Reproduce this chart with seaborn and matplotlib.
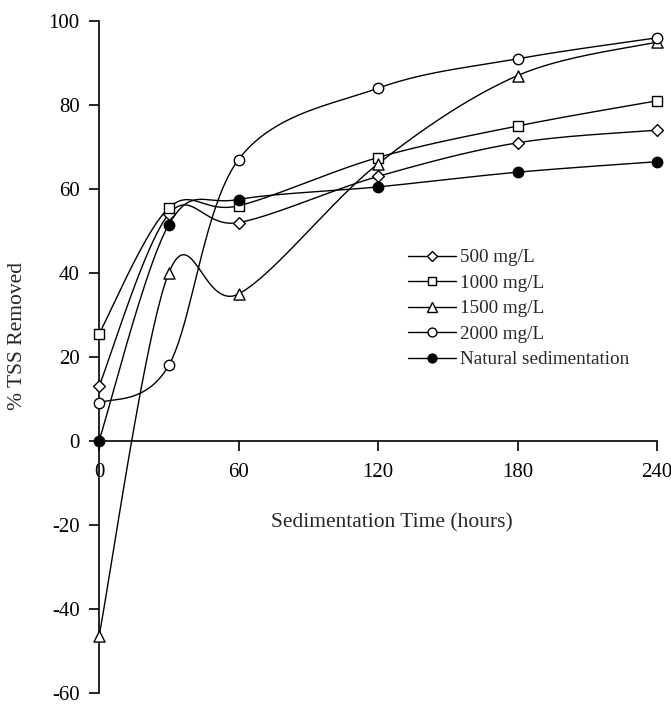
import numpy as np
import pandas as pd
import matplotlib
matplotlib.use("Agg")
import matplotlib.pyplot as plt
import seaborn as sns
from matplotlib.lines import Line2D

hours = [0, 30, 60, 120, 180, 240]
s500 = [13, 54, 52, 63, 71, 74]
s1000 = [25.5, 55.5, 56, 67.5, 75, 81]
s1500 = [-46.5, 40, 35, 66, 87, 95]
s2000 = [9, 18, 67, 84, 91, 96]
natural = [0, 51.5, 57.5, 60.5, 64, 66.5]
labels = ["500 mg/L", "1000 mg/L", "1500 mg/L", "2000 mg/L", "Natural sedimentation"]
series = [s500, s1000, s1500, s2000, natural]
markers = ["D", "s", "^", "o", "o"]
msizes = [6, 7, 8, 7.5, 7.5]
faces = ["white", "white", "white", "white", "black"]

sns.set_theme(style="white")
plt.rcParams["font.family"] = ["Liberation Serif", "DejaVu Serif"]
plt.rcParams["axes.unicode_minus"] = False


def smooth(x, y, n=40):
    P = np.column_stack([x, y]).astype(float)
    P = np.vstack([P[0], P, P[-1]])
    out = []
    t = np.linspace(0, 1, n)[:, None]
    for i in range(1, len(P) - 2):
        p0, p1, p2, p3 = P[i - 1], P[i], P[i + 1], P[i + 2]
        c1 = p1 + (p2 - p0) / 6
        c2 = p2 - (p3 - p1) / 6
        seg = ((1 - t) ** 3) * p1 + 3 * ((1 - t) ** 2) * t * c1 + 3 * (1 - t) * t ** 2 * c2 + t ** 3 * p2
        out.append(seg if i == 1 else seg[1:])
    return np.vstack(out)


fig = plt.figure(figsize=(6.71, 7.04), dpi=100)
ax = fig.add_axes([99 / 671, 1 - 693 / 704, (657 - 99) / 671, (693 - 21) / 704])

for lab, ys, m, ms, fc in zip(labels, series, markers, msizes, faces):
    curve = smooth(hours, ys)
    df = pd.DataFrame({"x": curve[:, 0], "y": curve[:, 1]})
    sns.lineplot(data=df, x="x", y="y", ax=ax, color="black", lw=1.0, sort=False,
                 estimator=None, legend=False, clip_on=False)
    pts = pd.DataFrame({"x": hours, "y": ys})
    sns.scatterplot(data=pts, x="x", y="y", ax=ax, marker=m, s=ms ** 2, facecolor=fc,
                    edgecolor="black", linewidth=1.0, legend=False, clip_on=False, zorder=5)

ax.set_xlim(0, 240)
ax.set_ylim(-60, 100)
ax.spines["left"].set_position(("data", 0))
ax.spines["bottom"].set_position(("data", 0))
ax.spines["right"].set_visible(False)
ax.spines["top"].set_visible(False)
for s in ["left", "bottom"]:
    ax.spines[s].set_color("black")
    ax.spines[s].set_linewidth(1.2)
ax.set_xticks([0, 60, 120, 180, 240])
ax.set_yticks(range(-60, 101, 20))
ax.tick_params(axis="both", direction="out", length=7, width=1.2, color="black",
               labelsize=15, labelcolor="black", bottom=True, left=True)
ax.tick_params(axis="x", pad=9)
ax.tick_params(axis="y", pad=7)
ax.set_xlabel("")
ax.set_ylabel("")
fig.text(392 / 671, 1 - 523 / 704, "Sedimentation Time (hours)", ha="center", va="center", fontsize=15.5)
fig.text(18 / 671, 1 - 336 / 704, "% TSS Removed", ha="center", va="center", rotation=90, fontsize=15.5)

handles = [Line2D([0], [0], color="black", lw=1.0, marker=m, markersize=ms * 0.85,
                  markerfacecolor=fc, markeredgecolor="black") for m, ms, fc in zip(markers, msizes, faces)]
leg = ax.legend(handles, labels, loc="upper left", bbox_to_anchor=(408 / 671, 1 - 249 / 704),
                bbox_transform=fig.transFigure, frameon=False, fontsize=13.8, handlelength=2.5,
                handletextpad=0.2, labelspacing=0.42, borderaxespad=0, borderpad=0)
fig.savefig("out.png", dpi=100)
